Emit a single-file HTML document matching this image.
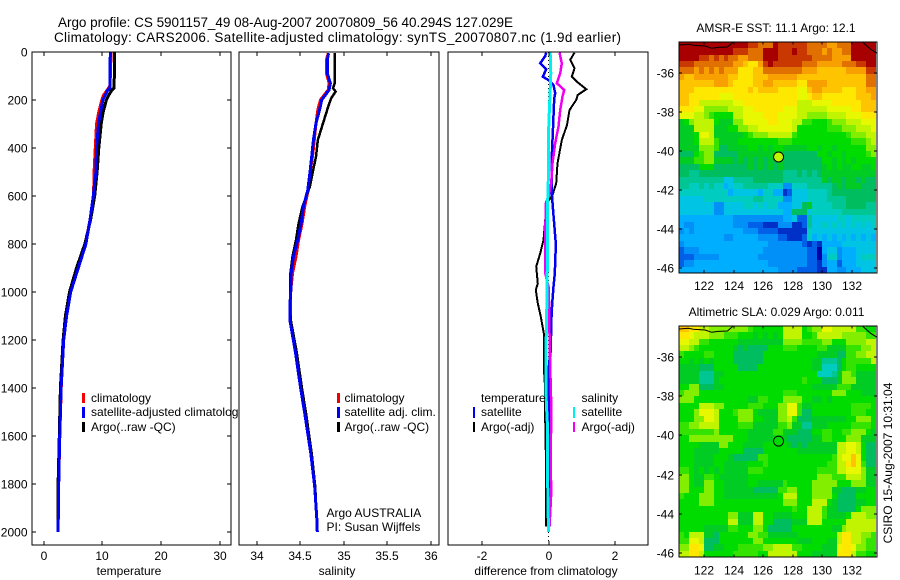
<!DOCTYPE html>
<html lang="en">
<head>
<meta charset="utf-8">
<title>Argo profile 5901157_49</title>
<style>
html,body{margin:0;padding:0;background:#fff;width:900px;height:580px;overflow:hidden}
svg{display:block}
text{font-family:"Liberation Sans",sans-serif;font-size:12px;fill:#000}
.frame{fill:none;stroke:#000;stroke-width:1;shape-rendering:crispEdges}
</style>
</head>
<body>
<svg id="chart" xmlns="http://www.w3.org/2000/svg" width="900" height="580" viewBox="0 0 900 580">
  <rect x="0" y="0" width="900" height="580" fill="#fff"/>
  <text x="58" y="27" textLength="455" lengthAdjust="spacing" style="font-size:13.5px">Argo profile: CS 5901157_49 08-Aug-2007 20070809_56 40.294S 127.029E</text>
  <text x="54" y="42" textLength="567" lengthAdjust="spacing" style="font-size:13.5px">Climatology: CARS2006. Satellite-adjusted climatology: synTS_20070807.nc (1.9d earlier)</text>

  <g id="panel-temp">
    <rect x="32" y="52" width="199" height="493" fill="#fff"/>
    <g id="temp-marks"></g>
    <rect x="82" y="393" width="3" height="10" fill="#f00000"/>
    <rect x="82" y="407" width="3" height="11" fill="#0000f0"/>
    <rect x="82" y="422" width="3" height="10" fill="#000"/>
    <text x="91" y="402">climatology</text>
    <text x="91" y="416">satellite-adjusted climatology</text>
    <text x="91" y="431">Argo(..raw -QC)</text>
    <rect class="frame" x="32" y="52" width="199" height="493"/>
    <g id="temp-ticks"></g>
    <text x="129" y="575" text-anchor="middle">temperature</text>
  </g>

  <g id="panel-sal">
    <rect x="239" y="52" width="200" height="493" fill="#fff"/>
    <g id="sal-marks"></g>
    <rect x="337" y="393" width="3" height="10" fill="#f00000"/>
    <rect x="337" y="407" width="3" height="11" fill="#0000f0"/>
    <rect x="337" y="422" width="3" height="10" fill="#000"/>
    <text x="344.5" y="402">climatology</text>
    <text x="344.5" y="416">satellite adj. clim.</text>
    <text x="344.5" y="431">Argo(..raw -QC)</text>
    <text x="326.5" y="517">Argo AUSTRALIA</text>
    <text x="326.5" y="531">PI: Susan Wijffels</text>
    <rect class="frame" x="239" y="52" width="200" height="493"/>
    <g id="sal-ticks"></g>
    <text x="337" y="575" text-anchor="middle">salinity</text>
  </g>

  <g id="panel-diff">
    <rect x="448" y="52" width="200" height="493" fill="#fff"/>
    <g id="diff-marks"></g>
    <text x="481" y="402">temperature</text>
    <rect x="473" y="407" width="2" height="11" fill="#0000f0"/>
    <rect x="473" y="422" width="2" height="10" fill="#000"/>
    <text x="481" y="416">satellite</text>
    <text x="481" y="431">Argo(-adj)</text>
    <text x="581.5" y="402">salinity</text>
    <rect x="573" y="407" width="2" height="11" fill="#00f0f0"/>
    <rect x="573" y="422" width="2" height="10" fill="#f000f0"/>
    <text x="581.5" y="416">satellite</text>
    <text x="581.5" y="431">Argo(-adj)</text>
    <rect class="frame" x="448" y="52" width="200" height="493"/>
    <g id="diff-ticks"></g>
    <text x="546" y="575" text-anchor="middle">difference from climatology</text>
  </g>

  <g id="map-sst">
    <text x="776" y="32" text-anchor="middle">AMSR-E SST: 11.1 Argo: 12.1</text>
  </g>
  <g id="map-sla">
    <text x="776.5" y="316" text-anchor="middle">Altimetric SLA: 0.029 Argo: 0.011</text>
  </g>
  <text transform="translate(892,463) rotate(-90)" text-anchor="middle">CSIRO 15-Aug-2007 10:31:04</text>
</svg>

<script>
/* ---------- tick labels ---------- */
const depthTicks = [0,200,400,600,800,1000,1200,1400,1600,1800,2000];
const tempTicks = [0,10,20,30];
const salinityTicks = [34,34.5,35,35.5,36];
const salinityTickLabels = ['34','34.5','35','35.5','36'];
const diffTicks = [-2,0,2];
const lonTicks = [122,124,126,128,130,132];
const latTicks = [-36,-38,-40,-42,-44,-46];

/* ---------- temperature profiles ---------- */
const tempClimDepth = [0,140,160,180,200,250,300,400,500,600,700,800,900,1000,1100,1200,1400,1600,1800,2000];
const tempClimValues = [11.5,11.3,10.8,10.2,9.9,9.4,9.0,8.8,8.6,8.5,7.9,7.1,5.8,4.6,3.9,3.4,2.98,2.75,2.55,2.45];
const tempSatDepth = [0,150,160,180,200,250,300,400,500,600,700,800,900,1000,1100,1200,1400,1600,1800,2000];
const tempSatValues = [11.35,11.3,10.9,10.5,10.1,9.7,9.35,9.0,8.9,8.45,7.9,7.2,5.9,4.6,3.9,3.4,2.96,2.73,2.55,2.45];
const tempArgoDepth = [0,150,160,180,200,250,300,400,500,600,700,800,900,1000,1100,1200,1400,1600,1800,1990];
const tempArgoValues = [12.1,12.0,11.6,11.1,10.7,10.15,9.8,9.4,9.1,8.7,8.0,7.0,5.6,4.4,3.7,3.3,2.85,2.65,2.45,2.4];

/* ---------- salinity profiles ---------- */
const salClimDepth = [5,33,89,130,158,200,242,297,367,436,505,575,644,714,783,853,922,992,1061,1117,1255,1394,1505,1672,1811,1950,2000];
const salClimValues = [34.82,34.8,34.8,34.83,34.82,34.73,34.7,34.68,34.66,34.64,34.61,34.59,34.55,34.52,34.48,34.45,34.41,34.39,34.385,34.385,34.45,34.505,34.56,34.62,34.665,34.69,34.695];
const salSatDepth = [5,33,89,130,158,200,242,297,367,436,505,575,644,714,783,853,922,992,1061,1117,1255,1394,1505,1672,1811,1950,2000];
const salSatValues = [34.825,34.81,34.81,34.845,34.83,34.745,34.72,34.68,34.65,34.63,34.61,34.585,34.535,34.51,34.47,34.42,34.395,34.39,34.38,34.38,34.445,34.5,34.55,34.62,34.665,34.69,34.695];
const salArgoDepth = [5,130,150,165,192,228,297,367,436,505,561,644,714,783,853,922,1061,1117,1255,1394,1505,1672,1811,1950,1990];
const salArgoValues = [34.895,34.895,34.875,34.905,34.855,34.82,34.76,34.70,34.68,34.64,34.61,34.525,34.48,34.45,34.41,34.385,34.38,34.39,34.46,34.515,34.565,34.63,34.67,34.69,34.695];

/* ---------- difference profiles ---------- */
const diffZeroDepth = [0,2040];
const diffZeroValues = [0,0];
const diffTempArgoDepth = [3,33,68,103,124,155,179,200,242,304,367,464,547,596,630,672,783,839,894,964,992,1047,1103,1172,1311,1408,1533,1755,1978];
const diffTempArgoValues = [0.78,0.65,0.78,0.70,0.855,1.135,0.875,0.83,0.63,0.555,0.40,0.27,0.23,0.12,-0.05,-0.08,-0.15,-0.25,-0.37,-0.32,-0.38,-0.32,-0.23,-0.14,-0.14,-0.1,-0.1,-0.07,-0.07];
const diffTempSatDepth = [3,17,47,72,103,117,138,172,194,297,436,589,644,783,839,922,978,1047,1130,1241,1325,1533,1700,2000];
const diffTempSatValues = [-0.07,-0.1,-0.25,-0.07,-0.17,0,0.15,0.2,0.17,0.14,0.1,0.1,0.13,0.21,0.21,0.19,0.15,0.11,0.08,0.07,0,0,0,0];
const diffSalArgoDepth = [3,47,89,130,158,186,242,311,380,464,547,603,630,783,922,978,1061,1172,1311,1464,1728,1839,1978];
const diffSalArgoValues = [0.33,0.4,0.35,0.25,0.47,0.42,0.35,0.3,0.2,0.12,0.08,0,-0.08,-0.1,-0.1,0,0.02,0.03,0.05,0.08,0.07,0.08,0.03];
const diffSalSatDepth = [3,89,158,228,339,506,644,783,839,1061,1200,1450,1561,1755,2000];
const diffSalSatValues = [0.05,0.07,0.05,0.03,0,0,-0.03,-0.03,-0.03,-0.05,-0.07,-0.07,-0.03,-0.03,0];

/* ---------- map grids: colour levels 0 (cold/low) to 20 (warm/high) ---------- */
const sstGrid = [
[20,20,20,20,20,20,20,20,20,20,20,20,20,20,19,19,18,18,18,20,19,19,19,19,19,19,18,18,18,18,17,17,18,18,18,20,20,20,20,20],
[20,20,20,20,20,20,20,20,20,20,20,19,19,19,18,18,18,20,20,20,19,19,19,20,19,19,18,18,18,17,18,17,17,18,18,20,20,20,20,20],
[20,20,20,20,19,19,18,19,18,19,18,18,17,17,18,18,18,20,20,20,19,19,19,19,19,19,19,18,18,18,18,17,17,17,17,20,20,20,20,20],
[19,19,19,18,18,18,18,18,18,18,18,17,17,16,15,15,17,19,20,19,19,19,19,19,19,18,18,18,17,17,17,17,17,18,18,18,19,19,20,20],
[18,18,18,17,18,17,18,17,18,17,17,17,15,15,15,16,16,18,18,18,18,18,18,18,18,17,17,17,16,16,16,16,16,16,17,17,17,17,19,19],
[17,16,16,17,17,17,17,17,17,17,16,16,15,15,15,16,16,16,17,17,17,17,17,17,16,16,16,16,16,16,16,16,16,16,16,16,16,16,18,18],
[16,16,16,16,16,16,16,17,17,17,16,15,15,15,15,16,16,17,17,16,16,16,16,16,15,15,17,17,17,17,16,16,16,16,16,16,16,16,18,18],
[16,16,16,15,15,15,15,15,15,15,15,15,15,15,16,15,16,16,16,16,15,15,15,15,14,14,16,17,17,16,16,16,16,15,15,15,16,16,17,17],
[16,16,15,15,15,15,15,15,14,14,14,15,15,15,15,15,15,15,15,15,15,15,15,15,14,14,15,16,16,15,15,15,15,15,15,15,16,16,16,17],
[16,16,15,15,13,13,13,13,13,13,13,14,14,15,15,15,15,15,15,15,15,15,15,15,13,13,13,14,14,14,14,15,15,15,15,15,15,16,16,16],
[15,15,15,14,14,12,12,12,12,12,13,13,13,14,14,15,15,15,15,15,15,14,14,14,13,13,13,13,13,13,14,14,14,14,14,15,15,16,16,16],
[14,14,14,13,13,12,11,10,10,10,10,13,13,14,14,14,14,15,15,15,14,14,14,14,13,13,12,12,12,12,13,13,13,13,14,14,14,15,15,15],
[9,10,12,13,13,13,13,10,9,9,9,12,12,14,14,14,14,14,15,15,14,14,14,13,13,11,11,10,10,10,11,12,12,12,13,13,13,14,14,14],
[9,9,9,13,13,13,13,9,9,9,10,10,12,12,13,13,14,14,14,14,14,14,14,13,10,10,10,10,10,10,11,11,11,12,12,12,13,13,13,14],
[9,9,9,10,14,14,13,9,9,9,9,9,9,10,11,12,12,12,13,13,13,13,13,11,10,10,10,10,10,10,10,10,10,10,11,12,12,12,13,13],
[9,9,9,10,13,13,13,11,9,9,9,9,10,10,10,10,10,10,10,10,11,11,11,10,10,10,10,10,10,10,10,10,10,10,10,11,11,11,12,13],
[9,9,9,9,12,12,12,11,8,8,9,9,9,9,10,10,9,10,9,10,10,9,9,9,9,9,10,10,9,10,10,9,10,10,10,10,10,10,12,12],
[8,8,8,10,11,12,12,8,8,8,8,8,9,9,9,9,9,9,9,9,9,8,8,8,8,8,8,8,10,10,9,10,10,9,10,10,10,10,11,12],
[9,9,9,11,11,12,12,9,9,9,9,8,9,8,9,8,9,8,9,8,9,8,8,8,8,8,8,8,8,10,10,9,10,9,10,9,10,10,10,10],
[8,8,8,8,10,10,10,8,8,8,8,8,8,8,9,8,9,8,9,8,9,8,8,8,8,8,8,8,8,9,10,9,10,9,9,10,10,9,9,10],
[8,8,7,7,8,8,8,8,8,8,8,8,8,8,8,8,8,8,8,8,8,7,7,7,8,7,8,7,8,9,9,9,9,9,9,9,9,9,9,9],
[7,7,7,7,7,7,7,7,7,5,5,7,7,7,7,8,8,8,8,8,8,7,7,7,7,7,7,7,7,9,8,9,9,8,9,9,8,9,8,8],
[7,7,6,6,7,6,7,6,6,4,5,6,6,7,7,7,7,7,6,6,6,3,3,6,6,6,7,7,7,7,7,8,9,8,9,9,9,8,8,8],
[6,6,6,6,6,6,6,6,6,6,4,5,5,5,5,5,4,6,6,4,4,1,2,5,5,5,6,6,6,6,7,8,8,8,8,8,8,8,8,8],
[5,5,5,5,5,6,6,6,6,6,6,6,6,6,6,7,7,6,6,6,6,3,3,5,5,5,6,6,6,6,7,7,7,7,8,8,8,8,8,8],
[5,5,5,5,5,5,5,3,3,5,5,5,5,6,6,5,6,5,6,6,4,4,4,5,5,8,9,6,6,6,6,7,7,7,8,8,8,8,7,7],
[5,5,5,5,5,5,5,3,3,5,5,5,5,5,5,5,5,5,5,5,5,4,4,8,8,8,5,6,6,6,6,6,6,7,7,7,7,7,7,7],
[4,4,4,4,4,4,4,4,4,4,4,3,3,3,3,3,3,3,3,3,3,4,4,5,2,2,7,5,5,5,5,5,6,6,5,6,6,6,6,6],
[4,3,3,4,4,4,4,4,4,4,4,3,3,3,2,2,2,1,1,1,3,3,3,1,1,2,7,5,5,6,5,6,5,6,5,6,5,6,5,6],
[3,4,3,4,4,4,4,4,4,4,4,4,4,3,3,3,2,2,2,2,1,1,1,1,1,1,6,5,5,5,5,5,5,5,5,5,5,5,5,5],
[4,4,4,4,4,4,4,4,4,3,3,4,4,4,4,4,3,3,3,3,2,2,1,1,1,2,6,4,5,4,5,4,5,4,5,4,5,4,5,4],
[3,4,4,4,4,4,4,4,4,4,4,4,4,4,4,4,4,4,3,3,3,3,3,3,3,2,1,2,1,4,4,4,4,5,5,5,5,5,5,5],
[2,3,3,3,4,4,4,4,4,4,4,4,4,4,4,4,4,3,3,3,3,3,3,3,3,3,2,2,0,4,5,5,3,4,4,4,5,5,5,5],
[2,2,2,3,3,3,3,3,4,4,4,4,4,4,4,4,3,3,3,3,3,3,3,3,3,3,2,2,0,3,6,6,3,4,4,4,5,6,6,6],
[2,3,3,4,4,4,4,4,4,4,4,4,4,4,4,4,4,4,3,3,3,3,3,3,3,3,2,2,1,3,4,4,2,4,4,4,5,5,5,5],
[4,4,4,4,4,4,4,4,4,4,4,4,4,4,4,4,4,4,4,4,3,3,3,3,2,2,2,2,1,1,4,4,3,3,4,4,4,5,5,5]
];
const slaGrid = [
[16,16,15,15,13,13,12,12,12,12,12,12,12,12,11,10,10,10,10,10,10,13,13,13,13,10,11,12,12,14,14,13,13,13,13,13,11,11,10,10],
[15,15,14,13,13,13,12,12,12,11,11,11,10,10,10,9,10,9,10,9,10,13,13,13,13,10,10,11,13,13,13,13,13,12,12,12,12,12,11,11],
[14,14,13,13,11,11,10,10,10,10,10,10,9,9,9,9,9,9,9,9,9,12,12,12,12,11,11,11,11,12,12,10,10,10,12,12,12,12,13,13],
[13,13,12,11,10,10,10,10,10,10,10,9,8,9,8,8,8,8,10,10,10,11,11,11,10,10,10,10,11,11,9,9,9,9,11,11,11,12,12,13],
[11,10,10,10,10,11,11,10,10,10,10,8,8,8,8,8,8,10,10,10,10,10,10,10,10,10,10,10,9,9,9,9,8,8,11,11,12,12,13,13],
[10,10,9,10,9,10,9,10,10,10,10,8,8,8,8,8,8,10,10,10,10,10,10,10,10,10,10,9,9,7,7,7,8,10,11,11,11,11,11,13],
[9,9,9,9,8,8,8,10,10,10,10,10,8,8,8,8,10,10,10,10,10,10,10,10,10,10,10,9,9,6,6,6,8,10,11,11,10,10,10,10],
[9,9,9,9,7,7,7,9,9,10,10,10,10,10,10,10,10,10,10,10,10,10,10,10,10,10,10,10,6,6,6,7,9,12,12,11,9,9,9,9],
[9,9,9,9,7,7,7,9,10,10,10,10,10,10,10,10,10,10,10,10,10,10,10,10,10,11,10,10,10,8,8,8,9,12,12,12,9,9,9,9],
[10,10,12,12,8,8,8,9,9,10,10,10,10,10,10,10,10,10,10,10,10,10,10,10,10,10,10,9,9,9,9,9,11,11,11,9,9,9,9,9],
[11,12,12,12,10,10,10,10,10,10,10,10,10,10,10,10,10,10,10,10,10,11,11,11,10,10,10,10,10,10,10,12,12,12,10,10,10,9,9,9],
[12,12,12,10,10,10,10,10,10,10,10,10,10,10,9,9,11,11,10,10,10,12,12,12,12,10,10,9,9,10,9,10,10,10,10,10,10,10,10,10],
[10,10,10,10,13,13,13,12,12,10,10,10,10,10,11,11,11,10,10,10,12,12,14,14,11,9,9,10,10,10,10,10,10,10,10,11,11,11,11,10],
[10,10,10,12,14,14,14,13,10,10,10,11,12,12,12,10,9,9,9,9,12,12,14,14,11,8,8,10,10,10,10,10,10,10,10,11,11,11,10,10],
[10,10,10,12,12,14,14,13,10,10,10,10,12,12,12,10,10,9,9,9,12,12,13,11,8,8,8,9,9,9,9,9,9,9,10,10,12,12,12,10],
[11,11,12,12,13,13,13,13,10,10,10,10,11,11,11,9,9,9,9,9,11,11,12,9,9,7,7,9,9,9,10,10,10,10,10,11,11,11,11,10],
[11,11,11,11,11,11,11,12,10,10,10,10,10,10,9,9,9,9,9,11,11,9,9,9,8,8,8,10,10,11,11,10,10,11,11,12,12,12,10,9],
[10,10,12,12,12,12,12,12,12,12,12,10,10,10,9,9,9,9,9,10,10,9,8,8,8,8,8,9,9,11,11,10,10,10,12,12,12,9,9,9],
[10,10,10,10,9,9,9,9,12,12,10,10,10,9,9,9,9,10,10,10,10,10,9,8,9,8,9,9,9,9,9,9,13,13,14,14,13,10,8,8],
[10,10,10,9,9,9,9,9,10,10,10,10,10,8,8,8,8,10,10,10,10,10,10,10,9,9,9,9,9,9,9,9,13,13,14,14,13,10,8,8],
[10,10,10,9,9,9,9,10,10,10,9,8,8,8,8,8,11,11,10,10,10,10,10,10,10,10,10,10,10,10,10,11,13,14,14,16,14,10,8,8],
[10,10,10,9,9,9,9,10,10,9,9,9,9,9,10,10,10,11,10,10,10,10,10,10,10,10,10,10,10,10,11,11,13,13,15,16,14,11,8,8],
[11,11,10,9,10,9,10,9,10,9,9,9,9,9,11,11,11,10,10,10,10,10,10,10,10,10,10,10,11,11,11,11,13,13,14,14,14,12,9,9],
[12,12,10,9,9,11,11,10,9,9,9,9,9,9,10,10,10,10,10,10,10,10,10,10,10,10,10,10,12,12,12,11,11,11,13,13,13,12,9,9],
[12,12,10,9,9,12,12,10,10,9,9,9,9,9,10,10,9,9,9,9,9,11,10,10,10,10,10,12,12,12,12,12,10,10,10,12,12,12,9,9],
[12,12,10,10,10,12,12,10,10,9,9,9,9,9,9,8,8,8,8,8,11,11,12,12,10,10,10,12,12,12,12,9,9,8,8,8,9,9,10,10],
[11,10,10,10,12,12,12,10,10,9,9,9,9,9,9,9,9,9,9,9,10,13,13,13,10,10,10,12,12,12,12,10,8,8,8,8,10,10,10,10],
[10,10,10,10,12,12,12,10,10,10,10,10,10,10,10,10,10,10,10,10,10,12,12,12,10,10,10,13,13,13,10,9,8,8,8,8,9,9,10,10],
[10,10,10,10,10,10,10,10,10,10,10,10,10,10,10,10,10,10,10,10,10,10,10,11,10,10,13,13,13,11,9,9,8,8,8,8,10,12,12,12],
[10,10,10,10,10,10,10,10,10,10,12,12,9,9,9,13,13,10,10,9,9,9,9,10,10,10,13,13,13,11,9,9,9,9,10,13,13,13,12,12],
[10,10,10,10,10,10,10,10,10,10,13,13,9,9,9,13,13,10,10,8,8,8,8,9,9,9,13,13,13,10,10,10,10,10,13,13,13,13,13,13],
[10,10,10,10,10,9,9,9,9,9,11,11,10,10,10,12,12,10,8,8,8,8,8,10,10,10,10,10,10,10,10,9,9,12,13,13,13,13,13,13],
[11,10,13,13,13,9,9,8,10,10,10,10,10,10,12,12,11,11,9,9,9,9,9,9,10,10,10,10,10,10,10,10,13,15,15,13,13,12,12,11],
[11,11,14,14,13,8,8,8,10,10,10,10,10,10,10,12,12,10,10,10,10,10,10,10,9,9,9,10,10,10,9,9,13,15,15,13,13,12,11,11],
[12,12,15,15,14,8,8,9,9,10,10,10,11,11,11,11,11,12,12,13,13,13,13,11,11,10,10,10,10,9,9,9,14,15,15,14,12,12,11,11],
[13,13,15,15,13,10,10,10,10,10,10,11,11,11,11,11,10,10,13,13,13,13,13,13,10,10,10,9,9,9,9,9,15,15,15,13,11,11,10,10]
];
const levelColours = ['#0000a8','#0030c8','#0060e8','#0090f8','#00aeff','#00c4e4','#00ccc0','#00c694','#00be60','#00cc24','#00dc00','#34e400','#84ee00','#c0f400','#e8f800','#ffe800','#ffc400','#f8a000','#e07000','#c83800','#a80000'];

/* ---------- coastline and float position ---------- */
const coastWestLon = [120.3,120.91,121.25,122.05,122.5,122.95,123.57,123.97];
const coastWestLat = [-34.55,-34.51,-34.56,-34.6,-34.72,-34.67,-34.65,-34.38];
const coastEastLon = [132.7,133.27,133.7];
const coastEastLat = [-34.38,-34.77,-34.97];
const floatLon = [127.03];
const floatLat = [-40.29];
const floatSstLevel = [13];
const floatSlaLevel = [10];

const SVG_NS = 'http://www.w3.org/2000/svg';
function make(tag, parent) {
  const node = document.createElementNS(SVG_NS, tag);
  parent.appendChild(node);
  return node;
}
function linear(d0, d1, r0, r1) {
  return function (v) { return r0 + (v - d0) * (r1 - r0) / (d1 - d0); };
}
const yDepth = linear(0, 2000, 52, 532);
const xTemp = linear(-2, 32, 32, 231.3);
const xSal = linear(33.8, 36.1, 239.5, 439.5);
const xDiff = linear(-3, 3, 448.5, 648.5);

function drawTickLine(parent, x1, y1, x2, y2) {
  const tick = make('line', parent);
  
  
  tick.setAttribute('x1', x1);
  tick.setAttribute('y1', y1);
  tick.setAttribute('x2', x2);
  tick.setAttribute('y2', y2);
  tick.setAttribute('stroke', '#000');
  tick.setAttribute('shape-rendering', 'crispEdges');
}
function drawTickLabel(parent, x, y, anchor, content) {
  const label = make('text', parent);
  
  
  label.setAttribute('x', x);
  label.setAttribute('y', y);
  label.setAttribute('text-anchor', anchor);
  label.textContent = content;
}
function drawCurve(parent, curveName, values, depths, xScale, colour, width) {
  const line = make('polyline', parent);
  
  
  line.setAttribute('points', values.map(function (v, i) {
    return xScale(v).toFixed(1) + ',' + yDepth(depths[i]).toFixed(1);
  }).join(' '));
  line.setAttribute('fill', 'none');
  line.setAttribute('stroke', colour);
  line.setAttribute('stroke-width', width);
  line.setAttribute('shape-rendering', 'crispEdges');
}
function drawXTicks(parent, ticks, labels, xScale) {
  ticks.forEach(function (t, i) {
    const x = Math.round(xScale(t));
    drawTickLine(parent, x, 52, x, 56);
    drawTickLine(parent, x, 541, x, 545);
    drawTickLabel(parent, x, 560, 'middle', labels[i]);
  });
}

/* temperature panel */
const tempMarks = document.getElementById('temp-marks');
drawCurve(tempMarks, 'temperature-climatology-line', tempClimValues, tempClimDepth, xTemp, '#f00000', 3);
drawCurve(tempMarks, 'temperature-argo-line', tempArgoValues, tempArgoDepth, xTemp, '#000', 3);
drawCurve(tempMarks, 'temperature-satellite-line', tempSatValues, tempSatDepth, xTemp, '#0000f0', 3);
const tempTickGroup = document.getElementById('temp-ticks');
drawXTicks(tempTickGroup, tempTicks, tempTicks.map(String), xTemp);
depthTicks.forEach(function (d) {
  const y = Math.round(yDepth(d));
  drawTickLine(tempTickGroup, 32, y, 36, y);
  drawTickLine(tempTickGroup, 227, y, 231, y);
  drawTickLabel(tempTickGroup, 27.5, y + 4.5, 'end', String(d));
});

/* salinity panel */
const salMarks = document.getElementById('sal-marks');
drawCurve(salMarks, 'salinity-climatology-line', salClimValues, salClimDepth, xSal, '#f00000', 3);
drawCurve(salMarks, 'salinity-argo-line', salArgoValues, salArgoDepth, xSal, '#000', 2.5);
drawCurve(salMarks, 'salinity-satellite-line', salSatValues, salSatDepth, xSal, '#0000f0', 3);
drawXTicks(document.getElementById('sal-ticks'), salinityTicks, salinityTickLabels, xSal);

/* difference panel */
const diffMarks = document.getElementById('diff-marks');
const zeroLine = make('polyline', diffMarks);


zeroLine.setAttribute('points', diffZeroValues.map(function (v, i) {
  return xDiff(v).toFixed(1) + ',' + yDepth(diffZeroDepth[i]).toFixed(1);
}).join(' '));
zeroLine.setAttribute('fill', 'none');
zeroLine.setAttribute('stroke', '#000');
zeroLine.setAttribute('stroke-dasharray', '1 3');
zeroLine.setAttribute('shape-rendering', 'crispEdges');
drawCurve(diffMarks, 'difference-temp-argo-line', diffTempArgoValues, diffTempArgoDepth, xDiff, '#000', 2);
drawCurve(diffMarks, 'difference-temp-satellite-line', diffTempSatValues, diffTempSatDepth, xDiff, '#0000f0', 2.5);
drawCurve(diffMarks, 'difference-sal-argo-line', diffSalArgoValues, diffSalArgoDepth, xDiff, '#f000f0', 2.5);
drawCurve(diffMarks, 'difference-sal-satellite-line', diffSalSatValues, diffSalSatDepth, xDiff, '#00f0f0', 3);
drawXTicks(document.getElementById('diff-ticks'), diffTicks, diffTicks.map(String), xDiff);

/* maps */
function drawMap(groupId, grid, top, bottom, lonLabelY, floatLevel) {
  const group = document.getElementById(groupId);
  const xLon = linear(120.3, 133.7, 679.3, 876.9);
  const yLat = linear(-34.38, -46.24, top, bottom);
  const lonStep = 1 / 3;
  const latStep = 11.86 / grid.length;

  grid.forEach(function (row, r) {
    const y0 = Math.round(yLat(-34.38 - r * latStep));
    const y1 = Math.round(yLat(-34.38 - (r + 1) * latStep));
    row.forEach(function (level, c) {
      const x0 = Math.round(xLon(120.3 + c * lonStep));
      const x1 = Math.round(xLon(120.3 + (c + 1) * lonStep));
      const cell = make('rect', group);
      
      
      cell.setAttribute('x', x0);
      cell.setAttribute('y', y0);
      cell.setAttribute('width', x1 - x0);
      cell.setAttribute('height', y1 - y0);
      cell.setAttribute('fill', levelColours[level]);
      cell.setAttribute('shape-rendering', 'crispEdges');
    });
  });

  [[coastWestLon, coastWestLat], [coastEastLon, coastEastLat]].forEach(function (pair) {
    const coast = make('polyline', group);
    
    
    coast.setAttribute('points', pair[0].map(function (lon, i) {
      return xLon(lon).toFixed(1) + ',' + yLat(pair[1][i]).toFixed(1);
    }).join(' '));
    coast.setAttribute('fill', 'none');
    coast.setAttribute('stroke', '#000');
    coast.setAttribute('stroke-width', 1);
  });

  const marker = make('circle', group);
  
  
  marker.setAttribute('cx', xLon(floatLon[0]));
  marker.setAttribute('cy', yLat(floatLat[0]));
  marker.setAttribute('r', 5);
  marker.setAttribute('fill', levelColours[floatLevel]);
  marker.setAttribute('stroke', '#000');
  marker.setAttribute('stroke-width', 1);

  const frame = make('rect', group);
  
  
  frame.setAttribute('class', 'frame');
  frame.setAttribute('x', 679);
  frame.setAttribute('y', Math.round(top));
  frame.setAttribute('width', 198);
  frame.setAttribute('height', Math.round(bottom) - Math.round(top));

  lonTicks.forEach(function (lon) {
    const x = Math.round(xLon(lon));
    drawTickLine(group, x, top, x, top + 3);
    drawTickLine(group, x, bottom - 3, x, bottom);
    drawTickLabel(group, x, lonLabelY, 'middle', String(lon));
  });
  latTicks.forEach(function (lat) {
    const y = Math.round(yLat(lat));
    drawTickLine(group, 679, y, 682, y);
    drawTickLine(group, 874, y, 877, y);
    drawTickLabel(group, 674, y + 4.5, 'end', String(lat));
  });
}
drawMap('map-sst', sstGrid, 41.7, 273, 290, floatSstLevel[0]);
drawMap('map-sla', slaGrid, 325.7, 557.3, 574.5, floatSlaLevel[0]);
</script>
</body>
</html>
